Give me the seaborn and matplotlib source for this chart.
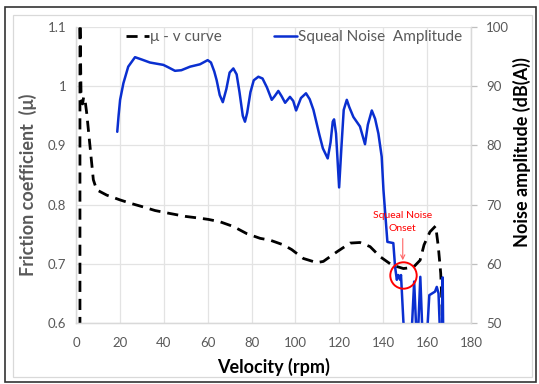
import matplotlib
matplotlib.use("Agg")
import matplotlib.pyplot as plt
from matplotlib.patches import Rectangle
import seaborn as sns
import pandas as pd

# mu - v curve (friction coefficient, left axis)
mu_rpm = [1.8, 1.8, 2.3, 3.0, 3.5, 4.1, 4.9, 6.4, 7.9, 9.4, 14.0, 20.0, 25.0, 30.7,
          36.0, 42.8, 50.0, 56.5, 60.3, 65.6, 71.7, 77.8, 83.9, 88.4, 94.5, 98.3,
          103.6, 109.7, 112.7, 118.8, 124.9, 129.4, 134.0, 138.6, 143.9, 149.2,
          153.7, 156.8, 158.6, 161.3, 163.9, 165.1, 166.2, 166.7, 167.2]
mu_val = [0.50, 1.12, 0.985, 0.970, 0.982, 0.977, 0.954, 0.898, 0.842, 0.825, 0.816,
          0.808, 0.802, 0.796, 0.790, 0.785, 0.780, 0.777, 0.775, 0.771, 0.763,
          0.751, 0.743, 0.740, 0.732, 0.724, 0.709, 0.702, 0.704, 0.720, 0.735,
          0.736, 0.729, 0.712, 0.698, 0.692, 0.694, 0.706, 0.732, 0.754, 0.764,
          0.729, 0.684, 0.639, 0.56]

# squeal noise amplitude (dB(A), right axis)
noise_rpm = [18.8, 19.4, 20.1, 21.6, 23.8, 26.9, 30.0, 33.7, 39.8, 42.0, 45.1, 48.0,
             52.0, 56.5, 60.0, 61.5, 63.0, 64.1, 65.5, 66.9, 68.5, 70.0, 71.7, 73.2,
             74.5, 76.0, 77.0, 78.0, 79.5, 81.0, 83.1, 85.0, 87.0, 89.2, 90.5, 92.2,
             93.7, 95.3, 97.5, 99.0, 100.3, 102.5, 104.8, 106.5, 108.2, 110.9, 112.5,
             114.7, 116.0, 117.0, 117.6, 118.5, 119.9, 121.0, 122.0, 123.4, 124.5,
             126.4, 129.4, 131.7, 133.0, 134.8, 136.3, 137.8, 139.3, 140.1, 141.9,
             144.6, 145.4, 146.2, 146.9, 147.7, 148.1, 149.2, 150.5, 152.5, 154.1,
             155.5, 156.9, 158.2, 159.5, 161.0, 163.6, 164.4, 165.2, 166.2, 166.8,
             167.1, 167.4]
noise_db = [82.3, 85.0, 87.7, 90.5, 93.3, 94.9, 94.5, 94.0, 93.6, 93.2, 92.6, 92.7,
            93.3, 93.7, 94.4, 94.0, 92.5, 91.0, 88.5, 87.3, 89.5, 92.3, 93.0, 92.0,
            89.0, 85.0, 84.0, 85.5, 89.0, 91.0, 91.6, 91.3, 89.8, 87.7, 88.3, 89.2,
            88.3, 87.2, 88.2, 87.5, 85.9, 88.0, 88.8, 87.8, 86.0, 81.8, 79.5,
            77.8, 80.5, 84.0, 84.4, 82.0, 72.9, 80.0, 86.0, 87.7, 86.5,
            84.8, 83.2, 80.2, 83.5, 85.9, 84.5, 82.0, 78.1, 72.5, 63.7,
            63.5, 59.5, 57.3, 58.1, 57.3, 58.1, 50.2, 45.0, 45.0, 57.0,
            45.0, 57.8, 45.0, 45.0, 54.7, 55.3, 56.1, 55.0, 45.0, 45.0,
            57.7, 45.0]

onset_rpm = 148.9
onset_db = 58.1

mu_df = pd.DataFrame({"rpm": mu_rpm, "mu": mu_val})
noise_df = pd.DataFrame({"rpm": noise_rpm, "db": noise_db})

sns.set_theme(style="white")
plt.rcParams["font.family"] = ["Lato", "DejaVu Sans"]

fig = plt.figure(figsize=(5.39, 3.84), dpi=100)
ax = fig.add_axes([76 / 539, 1 - 323 / 384, 395 / 539, 296 / 384])
ax2 = ax.twinx()

sns.lineplot(data=mu_df, x="rpm", y="mu", ax=ax, color="black", lw=2,
             linestyle=(0, (4, 2.5)), estimator=None, sort=False, label="\u03bc - v curve",
             legend=False)
sns.lineplot(data=noise_df, x="rpm", y="db", ax=ax2, color="#0a2fd0", lw=1.8,
             estimator=None, sort=False, label="Squeal Noise  Amplitude", legend=False)

ax.set_xlim(0, 180)
ax.set_ylim(0.6, 1.1)
ax2.set_ylim(50, 100)
ax.set_xticks(range(0, 181, 20))
ax.set_yticks([0.6, 0.7, 0.8, 0.9, 1.0, 1.1])
ax.set_yticklabels(["0.6", "0.7", "0.8", "0.9", "1", "1.1"])
ax2.set_yticks(range(50, 101, 10))

ax.grid(True, color="#e3e3e3", lw=0.9)
ax2.grid(False)
for a in (ax, ax2):
    for s in a.spines.values():
        s.set_color("#d9d9d9")
        s.set_linewidth(0.9)
    a.spines["top"].set_visible(False)

ax.tick_params(axis="y", length=0, labelsize=9.5, labelcolor="#595959", pad=7)
ax.tick_params(axis="x", length=0, labelsize=9.5, labelcolor="#595959", pad=10)
ax2.tick_params(axis="y", length=4, width=0.9, color="#bfbfbf", labelsize=9.5,
                labelcolor="#595959", pad=7)

ax.set_xlabel("Velocity (rpm)", fontsize=13, fontweight="bold", color="black")
ax.xaxis.set_label_coords(0.5, -0.148)
ax.xaxis.label.set_va("center")
ax.set_ylabel("Friction coefficient  (\u03bc)", fontsize=13, fontweight="bold",
              color="#595959")
ax.yaxis.set_label_coords(-0.122, 0.466)
ax.yaxis.label.set_va("center")
ax2.set_ylabel("Noise amplitude (dB(A))", fontsize=13, fontweight="bold", color="black")
ax2.yaxis.set_label_coords(1.129, 0.576)
ax2.yaxis.label.set_va("center")

h1, l1 = ax.get_legend_handles_labels()
h2, l2 = ax2.get_legend_handles_labels()
leg = ax2.legend(h1 + h2, l1 + l2, ncol=2, loc="center", bbox_to_anchor=(0.552, 0.966),
                 frameon=False, fontsize=11, handlelength=1.5, handletextpad=0.1,
                 columnspacing=3.4, labelcolor="#595959")

# squeal onset marker and note
ax2.plot([onset_rpm], [onset_db], marker="o", ms=19, mfc="none", mec="red", mew=1.4,
         ls="none")
ax2.annotate("Squeal Noise\nOnset", xy=(onset_rpm, 60.6), xytext=(onset_rpm, 67.1),
             ha="center", va="center", color="red", fontsize=7.5, linespacing=1.5,
             arrowprops=dict(arrowstyle="->", color="#ff6666", lw=0.8, shrinkA=2, shrinkB=0))

# chart frame
fig.add_artist(Rectangle((13 / 539, 1 - 377 / 384), 519 / 539, 362 / 384,
                         transform=fig.transFigure, fill=False, ec="#d9d9d9", lw=0.9))
fig.add_artist(Rectangle((5 / 539, 1 - 382 / 384), 531 / 539, 375 / 384,
                         transform=fig.transFigure, fill=False, ec="#333333", lw=1.2))

fig.savefig("out.png", dpi=100)
